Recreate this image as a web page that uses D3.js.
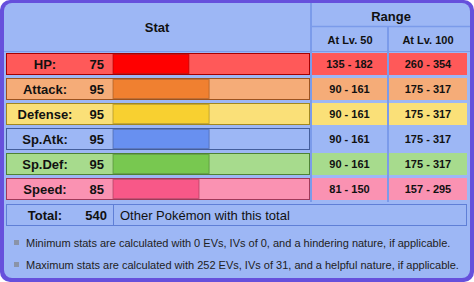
<!DOCTYPE html>
<html>
<head>
<meta charset="utf-8">
<script src="https://cdn.jsdelivr.net/npm/d3@7"></script>
<style>
  html, body { margin: 0; padding: 0; background: #fff; }
  svg { display: block; font-family: "Liberation Sans", Arial, sans-serif; }
</style>
</head>
<body>
<div id="chart"></div>
<script>
// data
const statNames = ['HP', 'Attack', 'Defense', 'Sp.Atk', 'Sp.Def', 'Speed'];
const statValues = [75, 95, 95, 95, 95, 85];
const lv50Ranges = ['135 - 182', '90 - 161', '90 - 161', '90 - 161', '90 - 161', '81 - 150'];
const lv100Ranges = ['260 - 354', '175 - 317', '175 - 317', '175 - 317', '175 - 317', '157 - 295'];
const totalValue = 540;
const notes = [
  'Minimum stats are calculated with 0 EVs, IVs of 0, and a hindering nature, if applicable.',
  'Maximum stats are calculated with 252 EVs, IVs of 31, and a helpful nature, if applicable.'
];

// colours per stat: row, bar, border
const palette = {
  'HP':      { row: '#ff5959', bar: '#ff0000', edge: '#a60000' },
  'Attack':  { row: '#f5ac78', bar: '#f08030', edge: '#9c531f' },
  'Defense': { row: '#fae078', bar: '#f8d030', edge: '#a1871f' },
  'Sp.Atk':  { row: '#9db7f5', bar: '#6890f0', edge: '#445e9c' },
  'Sp.Def':  { row: '#a7db8d', bar: '#78c850', edge: '#4e8234' },
  'Speed':   { row: '#fa92b2', bar: '#f85888', edge: '#a13959' }
};

const W = 474, H = 282;
const panel = '#9db7f5';
const line = '#7b9bea';
const ink = '#111';

const svg = d3.select('#chart').append('svg').attr('width', W).attr('height', H);

// frame
svg.append('rect').attr('width', W).attr('height', H).attr('rx', 10).attr('fill', '#6650dc');
svg.append('rect').attr('x', 4).attr('y', 3).attr('width', 466).attr('height', 275)
  .attr('rx', 8).attr('fill', panel);

const y = d3.scaleBand().domain(statNames).range([53, 200]).paddingInner(0.12);
const x = d3.scaleLinear().domain([0, 255]).range([113, 113 + 258]);

const rowLeft = 6, rowRight = 310;
const col50 = [312, 387], col100 = [389, 467];

// header cells
const head = svg.append('g');
head.append('line').attr('x1', 311).attr('x2', 311).attr('y1', 3).attr('y2', 202)
  .attr('stroke', line).attr('stroke-width', 2);
head.append('line').attr('x1', 388).attr('x2', 388).attr('y1', 27).attr('y2', 202)
  .attr('stroke', line).attr('stroke-width', 2);
head.append('line').attr('x1', 312).attr('x2', 470).attr('y1', 26.5).attr('y2', 26.5)
  .attr('stroke', line).attr('stroke-width', 1.5);
head.append('line').attr('x1', 4).attr('x2', 470).attr('y1', 51.5).attr('y2', 51.5)
  .attr('stroke', line).attr('stroke-width', 1);

head.append('text').attr('x', 157).attr('y', 32).attr('text-anchor', 'middle')
  .attr('font-size', 13).attr('font-weight', 'bold').attr('fill', ink).text('Stat');
head.append('text').attr('x', 391).attr('y', 21).attr('text-anchor', 'middle')
  .attr('font-size', 13).attr('font-weight', 'bold').attr('fill', ink).text('Range');
head.append('text').attr('x', 350).attr('y', 44).attr('text-anchor', 'middle')
  .attr('font-size', 11).attr('font-weight', 'bold').attr('fill', ink).text('At Lv. 50');
head.append('text').attr('x', 428).attr('y', 44).attr('text-anchor', 'middle')
  .attr('font-size', 11).attr('font-weight', 'bold').attr('fill', ink).text('At Lv. 100');

// stat rows
const rows = svg.selectAll('g.row')
  .data(statNames.map((name, i) => ({
    name, value: statValues[i], lv50: lv50Ranges[i], lv100: lv100Ranges[i]
  })))
  .enter().append('g').attr('class', 'row')
  .attr('transform', d => `translate(0,${y(d.name)})`);

const bh = y.bandwidth();

rows.append('rect')
  .attr('x', rowLeft + 0.5).attr('y', 0.5)
  .attr('width', rowRight - rowLeft - 1).attr('height', bh - 1)
  .attr('fill', d => palette[d.name].row)
  .attr('stroke', d => palette[d.name].edge).attr('stroke-width', 1);

rows.append('rect')
  .attr('x', x(0)).attr('y', 1.5)
  .attr('width', d => x(d.value) - x(0)).attr('height', bh - 3)
  .attr('fill', d => palette[d.name].bar)
  .attr('stroke', d => palette[d.name].edge).attr('stroke-width', 1).attr('stroke-opacity', 0.6);

rows.append('rect')
  .attr('x', col50[0]).attr('y', 0)
  .attr('width', col50[1] - col50[0]).attr('height', bh)
  .attr('fill', d => palette[d.name].row);
rows.append('rect')
  .attr('x', col100[0]).attr('y', 0)
  .attr('width', col100[1] - col100[0]).attr('height', bh)
  .attr('fill', d => palette[d.name].row);

rows.append('text').attr('x', 45).attr('y', bh / 2 + 4.5).attr('text-anchor', 'middle')
  .attr('font-size', 13).attr('font-weight', 'bold').attr('fill', ink)
  .text(d => d.name + ':');
rows.append('text').attr('x', 104).attr('y', bh / 2 + 4.5).attr('text-anchor', 'end')
  .attr('font-size', 13).attr('font-weight', 'bold').attr('fill', ink)
  .text(d => d.value);
rows.append('text').attr('x', (col50[0] + col50[1]) / 2).attr('y', bh / 2 + 4)
  .attr('text-anchor', 'middle').attr('font-size', 11).attr('font-weight', 'bold').attr('fill', ink)
  .text(d => d.lv50);
rows.append('text').attr('x', (col100[0] + col100[1]) / 2).attr('y', bh / 2 + 4)
  .attr('text-anchor', 'middle').attr('font-size', 11).attr('font-weight', 'bold').attr('fill', ink)
  .text(d => d.lv100);

// total row
const ty = 204, th = 22;
const tot = svg.append('g');
tot.append('rect').attr('x', rowLeft + 0.5).attr('y', ty + 0.5)
  .attr('width', 467 - rowLeft - 1).attr('height', th - 1)
  .attr('fill', panel).attr('stroke', '#5f7fd6');
tot.append('line').attr('x1', 113.5).attr('x2', 113.5).attr('y1', ty).attr('y2', ty + th)
  .attr('stroke', '#5f7fd6');
tot.append('text').attr('x', 45).attr('y', ty + th / 2 + 4.5).attr('text-anchor', 'middle')
  .attr('font-size', 13).attr('font-weight', 'bold').attr('fill', ink).text('Total:');
tot.append('text').attr('x', 107).attr('y', ty + th / 2 + 4.5).attr('text-anchor', 'end')
  .attr('font-size', 13).attr('font-weight', 'bold').attr('fill', ink).text(totalValue);
tot.append('text').attr('x', 120).attr('y', ty + th / 2 + 4.5)
  .attr('font-size', 13).attr('fill', ink).text('Other Pokémon with this total');

// notes
const ny = d3.scaleBand().domain(notes).range([232, 276]);
const ng = svg.selectAll('g.note').data(notes).enter().append('g').attr('class', 'note')
  .attr('transform', d => `translate(0,${ny(d) + ny.bandwidth() / 2})`);
ng.append('rect').attr('x', 14).attr('y', -3).attr('width', 5).attr('height', 5).attr('fill', '#8a93a8');
ng.append('text').attr('x', 26).attr('y', 4).attr('font-size', 11).attr('fill', '#222').text(d => d);
</script>
</body>
</html>
